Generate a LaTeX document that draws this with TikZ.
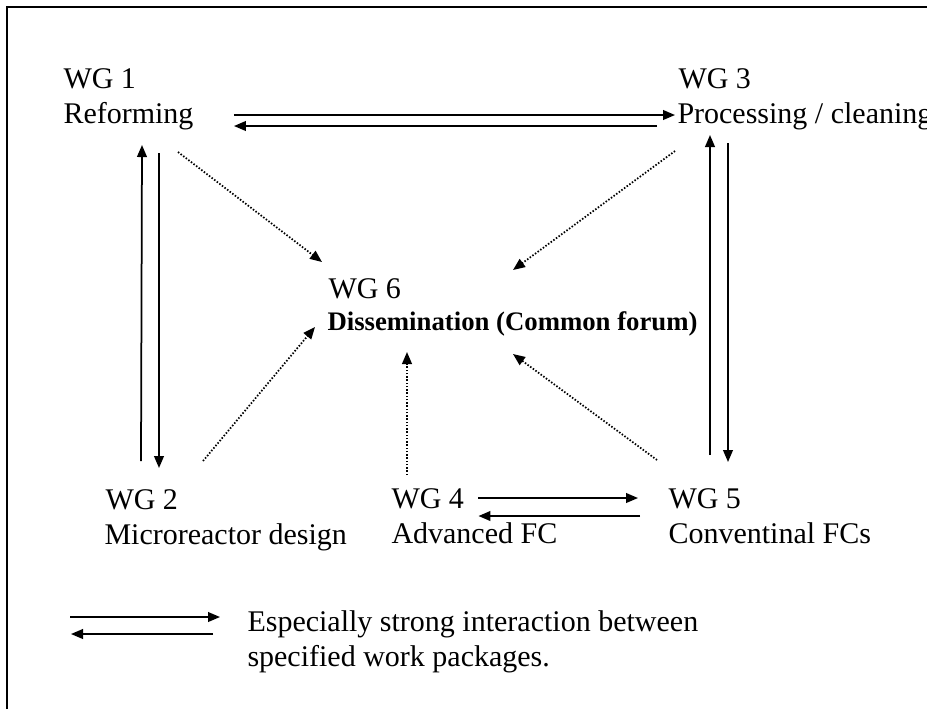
\documentclass[tikz,border=0pt]{standalone}
\usepackage{fontspec}
\setmainfont{Liberation Serif}
\usetikzlibrary{arrows.meta,calc}

\tikzset{
    wg/.style={anchor=base west, inner sep=0pt, font=\fontsize{12}{14}\selectfont},
    forum/.style={wg, font=\fontsize{10.7}{13}\selectfont\bfseries},
    strong/.style={->, line width=0.7pt},
    weak/.style={->, line width=0.7pt, dash pattern=on 0.6pt off 0.7pt},
}

\begin{document}
\begin{tikzpicture}[x=0.4pt, y=-0.4pt, >={Triangle[length=4.8pt, width=3.9pt]}]
    \useasboundingbox (0,0) rectangle (927,709);
    \draw[line width=0.7pt] (7,709) |- (927,7);

    \node[wg] (wg1) at (63, 88) {WG 1};
    \node[wg] (wg1name) at (63, 123) {Reforming};

    \node[wg] (wg3) at (678, 88) {WG 3};
    \node[wg] (wg3name) at (677, 123) {Processing / cleaning};

    \node[wg] (wg6) at (328, 298) {WG 6};
    \node[forum] (wg6name) at (327, 330) {Dissemination (Common forum)};

    \node[wg] (wg2) at (105, 509) {WG 2};
    \node[wg] (wg2name) at (104, 544) {Microreactor design};

    \node[wg] (wg4) at (391, 508) {WG 4};
    \node[wg] (wg4name) at (391, 543) {Advanced FC};

    \node[wg] (wg5) at (668, 508) {WG 5};
    \node[wg] (wg5name) at (668, 543) {Conventinal FCs};

    \node[wg] (key1) at (247, 631) {Especially strong interaction between};
    \node[wg] (key2) at (247, 666) {specified work packages.};

    % wg1 <-> wg3
    \draw[strong] ($(wg1name.base east)+(40,-8)$) -- ($(wg3name.base west)+(-2,-8)$);
    \draw[strong] ($(wg3name.base west)+(-20,3)$) -- ($(wg1name.base east)+(40,3)$);
    % wg1 <-> wg2
    \draw[strong] ($(wg2.base west)+(36,-48)$) -- ($(wg1name.base west)+(79,22)$);
    \draw[strong] ($(wg1name.base west)+(96,30)$) -- ($(wg2.base west)+(54,-41)$);
    % wg3 <-> wg5
    \draw[strong] ($(wg5.base west)+(42,-53)$) -- ($(wg3name.base west)+(33,12)$);
    \draw[strong] ($(wg3name.base west)+(51,20)$) -- ($(wg5.base west)+(60,-46)$);
    % wg4 <-> wg5
    \draw[strong] ($(wg4.base east)+(14,-10)$) -- ($(wg5.base west)+(-30,-10)$);
    \draw[strong] ($(wg5.base west)+(-28,8)$) -- ($(wg4.base east)+(14,8)$);

    % all groups feed the forum
    \draw[weak] ($(wg1name.base west)+(115,29)$) -- ($(wg6.base west)+(-6,-36)$);
    \draw[weak] ($(wg3name.base west)+(-2,28)$) -- ($(wg6.base west)+(185,-28)$);
    \draw[weak] ($(wg2.base west)+(98,-48)$) -- ($(wg6name.base west)+(-12,-3)$);
    \draw[weak] ($(wg4.base west)+(16,-33)$) -- ($(wg6name.base west)+(80,22)$);
    \draw[weak] ($(wg5.base west)+(-11,-48)$) -- ($(wg6name.base west)+(186,24)$);

    % key
    \draw[strong] ($(key1.base west)+(-177,-14)$) -- ($(key1.base west)+(-27,-14)$);
    \draw[strong] ($(key1.base west)+(-34,3)$) -- ($(key1.base west)+(-176,3)$);
\end{tikzpicture}
\end{document}
